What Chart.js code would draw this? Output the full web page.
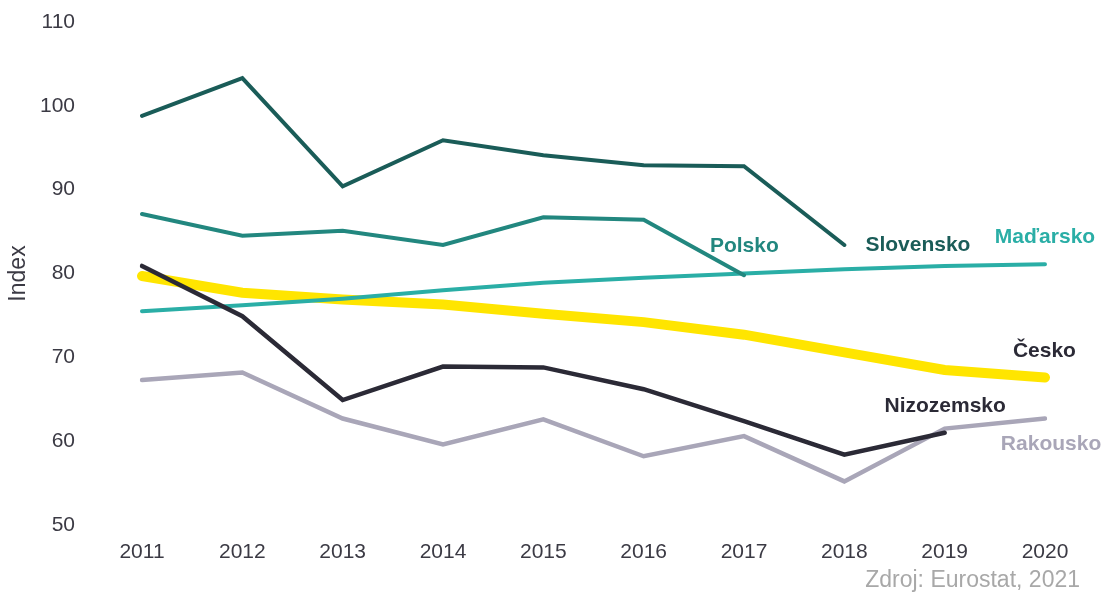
<!DOCTYPE html>
<html>
<head>
<meta charset="utf-8">
<title>Index</title>
<script src="https://cdn.jsdelivr.net/npm/chart.js@4.4.1/dist/chart.umd.min.js"></script>
<style>
    html, body { margin: 0; padding: 0; background: #fff; }
    .chart-wrap { width: 1106px; height: 593px; position: relative; }
</style>
</head>
<body>
<div class="chart-wrap"><canvas id="indexChart"></canvas></div>
<script>
// Data
const years = ['2011', '2012', '2013', '2014', '2015', '2016', '2017', '2018', '2019', '2020'];
const slovensko = [98.8, 103.3, 90.4, 95.9, 94.1, 92.9, 92.8, 83.4, null, null];
const polsko = [87.1, 84.5, 85.1, 83.4, 86.7, 86.4, 79.8, null, null, null];
const madarsko = [75.5, 76.2, 77.0, 78.0, 78.9, 79.5, 80.0, 80.5, 80.9, 81.1];
const cesko = [79.7, 77.7, 76.9, 76.3, 75.2, 74.2, 72.7, 70.6, 68.5, 67.6];
const nizozemsko = [80.9, 74.9, 64.9, 68.9, 68.8, 66.2, 62.4, 58.4, 61.0, null];
const rakousko = [67.3, 68.2, 62.7, 59.6, 62.6, 58.2, 60.6, 55.2, 61.5, 62.7];
const yTicks = [50, 60, 70, 80, 90, 100, 110];
const sourceText = 'Zdroj: Eurostat, 2021';

// Series name labels, anchored in data coordinates (category index, value)
const seriesLabels = [
    { text: 'Polsko', color: '#22877f', at: [5.66, 83.3] },
    { text: 'Slovensko', color: '#1a5c58', at: [7.21, 83.4] },
    { text: 'Maďarsko', color: '#2aaea6', at: [8.5, 84.3] },
    { text: 'Česko', color: '#2b2a36', at: [8.68, 70.7] },
    { text: 'Nizozemsko', color: '#2b2a36', at: [7.4, 64.2] },
    { text: 'Rakousko', color: '#a9a6b8', at: [8.56, 59.6] }
];

const FONT = '"Liberation Sans", Arial, sans-serif';
Chart.defaults.font.family = FONT;

function line(label, data, color, width, order) {
    return {
        label: label,
        data: data,
        borderColor: color,
        backgroundColor: color,
        borderWidth: width,
        borderCapStyle: 'round',
        borderJoinStyle: 'miter',
        pointRadius: 0,
        tension: 0,
        fill: false,
        spanGaps: false,
        order: order
    };
}

// Draws series names and source note
const labelPlugin = {
    id: 'seriesLabels',
    afterDatasetsDraw(chart) {
        const ctx = chart.ctx;
        const xs = chart.scales.x;
        const ys = chart.scales.y;
        ctx.save();
        ctx.font = 'bold 21px ' + FONT;
        ctx.textAlign = 'left';
        ctx.textBaseline = 'middle';
        seriesLabels.forEach(l => {
            ctx.fillStyle = l.color;
            ctx.fillText(l.text, xs.getPixelForValue(l.at[0]), ys.getPixelForValue(l.at[1]));
        });
        ctx.font = '23px ' + FONT;
        ctx.fillStyle = '#a8a8a8';
        ctx.textAlign = 'right';
        ctx.fillText(sourceText, chart.width - 26, chart.height - 12);
        ctx.restore();
    }
};

const ctx = document.getElementById('indexChart');
new Chart(ctx, {
    type: 'line',
    data: {
        labels: years,
        datasets: [
            line('Slovensko', slovensko, '#1a5c58', 4, 0),
            line('Polsko', polsko, '#22877f', 4, 1),
            line('Nizozemsko', nizozemsko, '#2b2a36', 4.5, 2),
            line('Maďarsko', madarsko, '#2aaea6', 4, 3),
            line('Rakousko', rakousko, '#a9a6b8', 4.5, 4),
            line('Česko', cesko, '#ffe500', 10, 5)
        ]
    },
    options: {
        responsive: true,
        maintainAspectRatio: false,
        animation: false,
        layout: {
            padding: { top: 22, right: 61, bottom: 0, left: 0 }
        },
        plugins: {
            legend: { display: false },
            tooltip: { enabled: false }
        },
        scales: {
            x: {
                offset: false,
                grid: { display: false, drawTicks: false },
                border: { display: false },
                ticks: {
                    padding: 15,
                    color: '#3b3a44',
                    font: { size: 21 },
                    maxRotation: 0
                },
                afterFit: function(scale) {
                    scale.height = 68;
                    scale.paddingLeft = 0;
                    scale.paddingRight = 0;
                }
            },
            y: {
                min: 50,
                max: 110,
                grid: { display: false, drawTicks: false },
                border: { display: false },
                afterBuildTicks: function(scale) {
                    scale.ticks = yTicks.map(v => ({ value: v }));
                },
                ticks: {
                    padding: 67,
                    color: '#3b3a44',
                    font: { size: 21 }
                },
                title: {
                    display: true,
                    text: 'Index',
                    color: '#3b3a44',
                    font: { size: 23 },
                    padding: { top: 5, bottom: 0 }
                },
                afterFit: function(scale) {
                    scale.width = 142;
                    scale.paddingTop = 0;
                    scale.paddingBottom = 0;
                }
            }
        }
    },
    plugins: [labelPlugin]
});
</script>
</body>
</html>
